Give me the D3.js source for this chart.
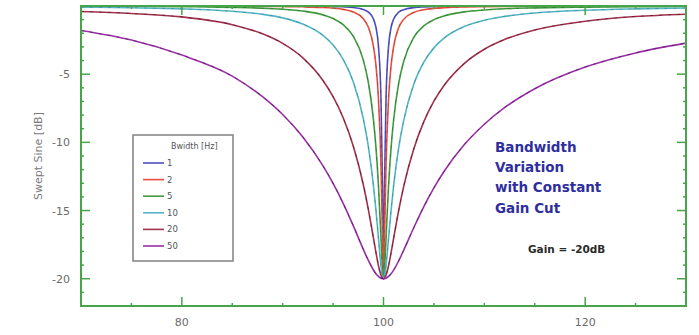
<!DOCTYPE html>
<html><head><meta charset="utf-8">
<script src="https://cdn.jsdelivr.net/npm/d3@7"></script>
<style>html,body{margin:0;padding:0;background:#fff;}svg{display:block;}</style>
</head><body>
<script>
// ---- data ----
const freq = [70,75,80,85,88,90,92,94,95,96,97,98,98.5,99,99.25,99.5,99.75,99.9,100,100.1,100.25,100.5,100.75,101,101.5,102,103,104,105,106,108,110,112,115,120,125,130];
const bw1  = [0,0,0,0,0,-0.01,-0.02,-0.03,-0.04,-0.06,-0.11,-0.26,-0.45,-0.95,-1.57,-2.96,-6.81,-13.18,-20,-13.18,-6.83,-2.98,-1.59,-0.97,-0.46,-0.27,-0.12,-0.07,-0.05,-0.03,-0.02,-0.01,-0.01,0,0,0,0];
const bw2  = [0,-0.01,-0.01,-0.02,-0.03,-0.04,-0.06,-0.11,-0.16,-0.25,-0.44,-0.94,-1.56,-2.95,-4.34,-6.80,-11.65,-17.03,-20,-17.04,-11.67,-6.84,-4.38,-2.99,-1.60,-0.98,-0.47,-0.27,-0.18,-0.13,-0.07,-0.05,-0.03,-0.02,-0.01,-0.01,-0.01];
const bw5  = [-0.02,-0.03,-0.05,-0.10,-0.16,-0.24,-0.37,-0.65,-0.91,-1.37,-2.21,-3.97,-5.61,-8.31,-10.35,-13.16,-17.03,-19.36,-20,-19.36,-17.04,-13.20,-10.40,-8.38,-5.70,-4.07,-2.31,-1.46,-1.00,-0.73,-0.43,-0.29,-0.20,-0.14,-0.08,-0.05,-0.04];
const bw10 = [-0.08,-0.13,-0.21,-0.39,-0.61,-0.87,-1.32,-2.15,-2.86,-3.91,-5.56,-8.27,-10.32,-13.15,-14.96,-17.02,-19.04,-19.83,-20,-19.83,-19.04,-17.04,-15.00,-13.21,-10.43,-8.41,-5.74,-4.12,-3.07,-2.36,-1.51,-1.04,-0.76,-0.51,-0.31,-0.21,-0.15];
const bw20 = [-0.40,-0.55,-0.80,-1.37,-2.04,-2.74,-3.80,-5.46,-6.65,-8.20,-10.27,-13.11,-14.93,-17.01,-18.07,-19.04,-19.74,-19.96,-20,-19.96,-19.74,-19.05,-18.10,-17.05,-15.02,-13.25,-10.48,-8.48,-6.98,-5.83,-4.22,-3.17,-2.46,-1.76,-1.12,-0.77,-0.60];
const bw50 = [-1.80,-2.50,-3.60,-5.14,-6.65,-7.96,-9.61,-11.73,-13.01,-14.47,-16.11,-17.85,-18.66,-19.36,-19.63,-19.83,-19.96,-19.99,-20,-19.99,-19.96,-19.83,-19.63,-19.37,-18.70,-17.91,-16.26,-14.71,-13.34,-12.14,-10.18,-8.67,-7.46,-6.07,-4.48,-3.44,-2.72];
const seriesNames = ["1","2","5","10","20","50"];
const seriesVals = [bw1,bw2,bw5,bw10,bw20,bw50];
const seriesColors = ["#4f4fc4","#e8503e","#3f9c3f","#52b6c6","#a3304c","#9a2fa8"];
const xTicks = [80,100,120];
const yTicks = [-5,-10,-15,-20];
const legendTitle = "Bwidth [Hz]";
const yLabel = "Swept Sine [dB]";
const noteLines = ["Bandwidth","Variation","with Constant","Gain Cut"];
const gainNote = "Gain = -20dB";

// ---- drawing ----
const W = 699, H = 335;
const L = 81, R = 686, T = 6, B = 306;
const svg = d3.select("body").append("svg").attr("width", W).attr("height", H);
const x = d3.scaleLinear().domain([70,130]).range([L,R]);
const y = d3.scaleLinear().domain([-22,0]).range([B,T]);
const frameColor = "#48a448";
const font = "'DejaVu Sans', Verdana, sans-serif";

// curves
const line = d3.line().x((d,i)=>x(freq[i])).y(d=>y(d)).curve(d3.curveMonotoneX);
const gCurves = svg.append("g");
seriesVals.forEach((vals,k)=>{
  gCurves.append("path").attr("d", line(vals)).attr("fill","none")
    .attr("stroke", seriesColors[k]).attr("stroke-width", 1.6);
  gCurves.append("path").attr("d", line(vals)).attr("fill","none")
    .attr("stroke", "#000").attr("stroke-opacity", k>=4 ? 0.35 : 0.18)
    .attr("stroke-width", 1).attr("stroke-dasharray","3,6");
});

// frame
svg.append("rect").attr("x",L).attr("y",T).attr("width",R-L).attr("height",B-T)
  .attr("fill","none").attr("stroke",frameColor).attr("stroke-width",2);

// ticks (inside, mirrored)
const tg = svg.append("g").attr("stroke",frameColor).attr("stroke-width",1.5);
const xMinor = d3.range(75,130,5);
xMinor.forEach(v=>{
  const major = xTicks.includes(v);
  const len = major ? 9 : 3;
  tg.append("line").attr("x1",x(v)).attr("x2",x(v)).attr("y1",B).attr("y2",B-len);
  tg.append("line").attr("x1",x(v)).attr("x2",x(v)).attr("y1",T).attr("y2",T+len);
});
const yMinor = d3.range(-21,0,1);
yMinor.forEach(v=>{
  const major = yTicks.includes(v);
  const len = major ? 9 : 3;
  tg.append("line").attr("x1",L).attr("x2",L+len).attr("y1",y(v)).attr("y2",y(v));
  tg.append("line").attr("x1",R).attr("x2",R-len).attr("y1",y(v)).attr("y2",y(v));
});

// tick labels
svg.append("g").selectAll("text").data(xTicks).join("text")
  .attr("x",d=>x(d)).attr("y",326).attr("text-anchor","middle")
  .attr("font-family",font).attr("font-size",11).attr("fill","#6a6a6a").text(d=>d);
svg.append("g").selectAll("text").data(yTicks).join("text")
  .attr("x",70).attr("y",d=>y(d)+4).attr("text-anchor","end")
  .attr("font-family",font).attr("font-size",11).attr("fill","#6a6a6a").text(d=>d);
svg.append("text").attr("transform",`translate(42,${(T+B)/2}) rotate(-90)`)
  .attr("text-anchor","middle").attr("font-family",font).attr("font-size",11)
  .attr("fill","#7a7a7a").text(yLabel);

// legend
const lg = svg.append("g");
lg.append("rect").attr("x",133).attr("y",135).attr("width",100).attr("height",126)
  .attr("fill","#fff").attr("stroke","#808080").attr("stroke-width",1.5);
lg.append("text").attr("x",171).attr("y",149).attr("font-family",font).attr("font-size",8)
  .attr("fill","#555").text(legendTitle);
seriesNames.forEach((n,k)=>{
  const yy = 163 + k*16.6;
  lg.append("line").attr("x1",143).attr("x2",164).attr("y1",yy).attr("y2",yy)
    .attr("stroke",seriesColors[k]).attr("stroke-width",1.6);
  lg.append("text").attr("x",167).attr("y",yy+3).attr("font-family",font).attr("font-size",8.5)
    .attr("fill","#555").text(n);
});

// annotations
noteLines.forEach((t,i)=>{
  svg.append("text").attr("x",495).attr("y",152 + i*20.2).attr("font-family",font)
    .attr("font-weight","bold").attr("font-size",13.5).attr("fill","#2e2e9e").text(t);
});
svg.append("text").attr("x",528).attr("y",253).attr("font-family",font)
  .attr("font-weight","bold").attr("font-size",10.5).attr("fill","#2a2a2a").text(gainNote);
</script>
</body></html>
